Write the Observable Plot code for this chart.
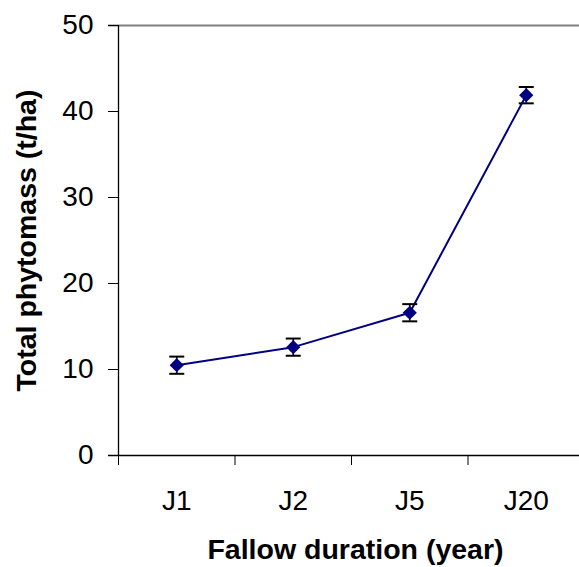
<!DOCTYPE html>
<html><head>
<meta charset="utf-8">
<script src="https://cdn.jsdelivr.net/npm/d3@7"></script>
<script src="https://cdn.jsdelivr.net/npm/@observablehq/plot@0.6"></script>
<style>
html,body{margin:0;padding:0;background:#fff;overflow:hidden}
svg{display:block}
</style>
</head><body><div id="chart"></div>
<script>
const categories = ["J1", "J2", "J5", "J20"];
const values = [10.5, 12.6, 16.6, 41.9];
const errors = [1.0, 1.0, 1.0, 0.95];
const yTicks = [0, 10, 20, 30, 40, 50];
const xLabel = "Fallow duration (year)";
const yLabel = "Total phytomass (t/ha)";

const data = categories.map((c, i) => ({c, pos: i + 0.5, v: values[i], e: errors[i]}));
const capHalf = 7.5;
const hline = {draw(ctx) { ctx.moveTo(-capHalf, 0); ctx.lineTo(capHalf, 0); }};
const font = "'Liberation Sans', Arial, sans-serif";

const chart = Plot.plot({
  width: 579, height: 567,
  marginLeft: 118, marginRight: -5, marginTop: 25, marginBottom: 112,
  style: {fontFamily: font, fontSize: "28px", color: "#000", background: "#fff", overflow: "hidden"},
  x: {type: "linear", domain: [0, categories.length]},
  y: {domain: [0, 50]},
  marks: [
    Plot.ruleY([50], {stroke: "#808080", strokeWidth: 2, insetLeft: -10}),
    Plot.axisY({ticks: yTicks, tickSize: 10, tickPadding: 15, label: null, stroke: "#000", fontSize: 28}),
    Plot.axisX({ticks: d3.range(categories.length), tickSize: 10, tickFormat: () => "", label: null, stroke: "#000"}),
    Plot.axisX({ticks: data.map(d => d.pos), tickSize: 0, tickPadding: 35, tickFormat: x => categories[Math.floor(x)], label: null, fontSize: 28}),
    Plot.ruleX([0], {stroke: "#000", strokeWidth: 1.3}),
    Plot.ruleY([0], {stroke: "#000", strokeWidth: 1.3, insetLeft: -10}),
    Plot.line(data, {x: "pos", y: "v", stroke: "#000080", strokeWidth: 2}),
    Plot.ruleX(data, {x: "pos", y1: d => d.v - d.e, y2: d => d.v + d.e, stroke: "#000", strokeWidth: 1.6}),
    Plot.dot(data, {x: "pos", y: d => d.v + d.e, symbol: hline, stroke: "#000", strokeWidth: 2, fill: "none"}),
    Plot.dot(data, {x: "pos", y: d => d.v - d.e, symbol: hline, stroke: "#000", strokeWidth: 2, fill: "none"}),
    Plot.dot(data, {x: "pos", y: "v", symbol: "diamond2", r: 6.4, fill: "#000080", stroke: "none"}),
    Plot.text([xLabel], {frameAnchor: "bottom", dy: 94, dx: 4, textAnchor: "middle", lineAnchor: "middle", fontWeight: "bold", fontSize: 28.5, fill: "#000"}),
    Plot.text([yLabel], {frameAnchor: "left", dx: -92, rotate: -90, textAnchor: "middle", lineAnchor: "middle", fontWeight: "bold", fontSize: 28.5, fill: "#000"})
  ]
});
document.getElementById("chart").appendChild(chart);
</script>
</body></html>
